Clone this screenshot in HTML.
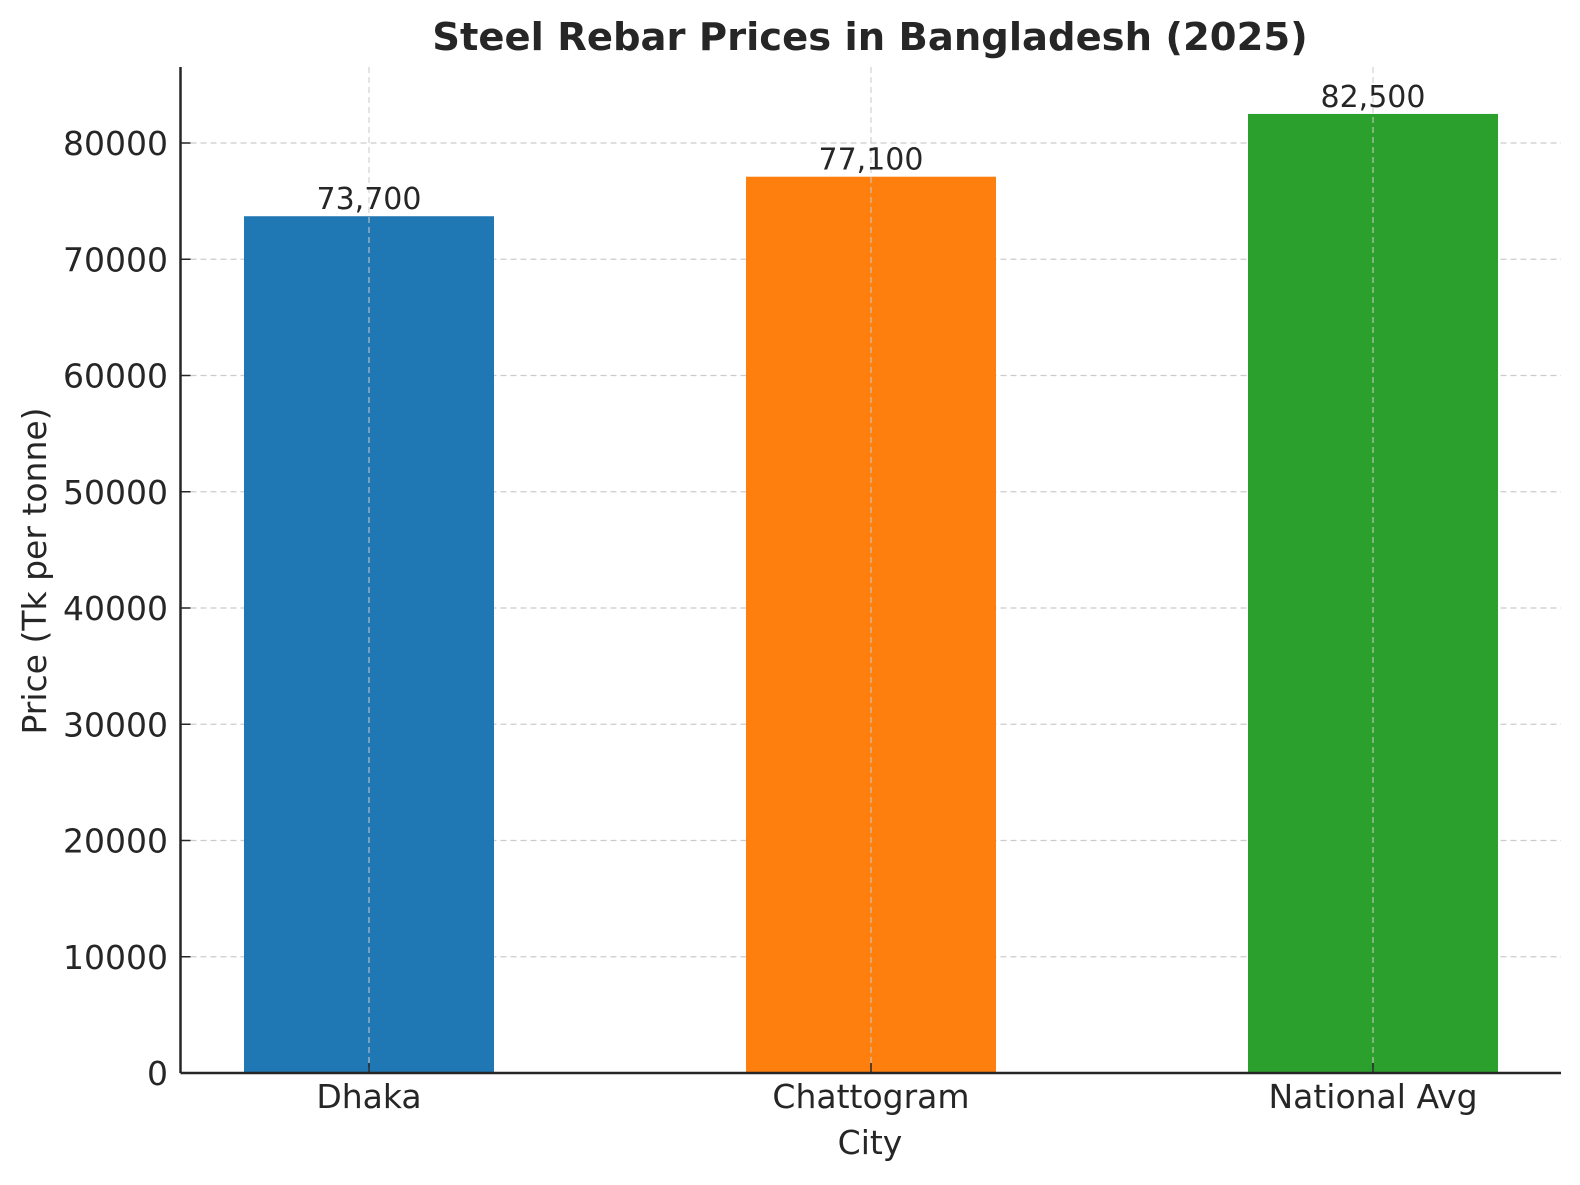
<!DOCTYPE html>
<html><head><meta charset="utf-8"><style>
body{margin:0;background:#fff}
svg text{font-family:"DejaVu Sans","Liberation Sans",sans-serif;fill:#262626}
</style></head><body>
<svg id="chart" width="1580" height="1180" xmlns="http://www.w3.org/2000/svg">
<text x="870" y="50" text-anchor="middle" font-size="38.5" font-weight="bold">Steel Rebar Prices in Bangladesh (2025)</text>
<g id="grid"></g><g id="bars"></g><g id="labels"></g><g id="axes"></g>
<text x="870" y="1154" text-anchor="middle" font-size="33">City</text>
<text transform="translate(46,571) rotate(-90)" text-anchor="middle" font-size="33">Price (Tk per tonne)</text>
</svg>
<script>
const categories=["Dhaka","Chattogram","National Avg"];
const values=[73700,77100,82500];
const valueLabels=["73,700","77,100","82,500"];
const yTicks=[0,10000,20000,30000,40000,50000,60000,70000,80000];
const colors=["#1f77b4","#ff7f0e","#2ca02c"];
const NS="http://www.w3.org/2000/svg";
const L=180.5,R=1561,T=67,B=1073;
const y=v=>B-v*(B-143)/80000;
const x0=369,step=502,bw=250;
const x=i=>x0+i*step;
function mk(t,a,p){const e=document.createElementNS(NS,t);for(const k in a)e.setAttribute(k,a[k]);document.getElementById(p).appendChild(e);return e;}
yTicks.forEach(v=>{
 const g=mk('line',{x1:L,x2:R,y1:y(v),y2:y(v),stroke:'#ccc','stroke-width':1.3,'stroke-dasharray':'6,4'},'grid');
 
 
 const tk=mk('line',{x1:L,x2:L+10,y1:y(v),y2:y(v),stroke:'#262626','stroke-width':1.5},'axes');
 
 
 const t=mk('text',{x:168,y:y(v)+12,'text-anchor':'end','font-size':33},'axes');t.textContent=v;
 
 
});
categories.forEach((c,i)=>{
 const r=mk('rect',{x:x(i)-bw/2,y:y(values[i]),width:bw,height:B-y(values[i]),fill:colors[i]},'bars');
 
 
 const g=mk('line',{x1:x(i),x2:x(i),y1:T,y2:B,stroke:'#ccc','stroke-width':1.3,'stroke-dasharray':'6,4','stroke-opacity':0.8},'labels');
 
 
 const vl=mk('text',{x:x(i),y:y(values[i])-7,'text-anchor':'middle','font-size':30},'labels');vl.textContent=valueLabels[i];
 
 
 const tk=mk('line',{x1:x(i),x2:x(i),y1:B-10,y2:B,stroke:'#262626','stroke-width':1.5},'axes');
 
 
 const t=mk('text',{x:x(i),y:1108,'text-anchor':'middle','font-size':33},'axes');t.textContent=c;
 
 
});
const ax1=mk('line',{x1:L,x2:L,y1:T,y2:B,stroke:'#262626','stroke-width':2.5},'axes');


const ax2=mk('line',{x1:L,x2:R,y1:B,y2:B,stroke:'#262626','stroke-width':2.5},'axes');


</script>
</body></html>
